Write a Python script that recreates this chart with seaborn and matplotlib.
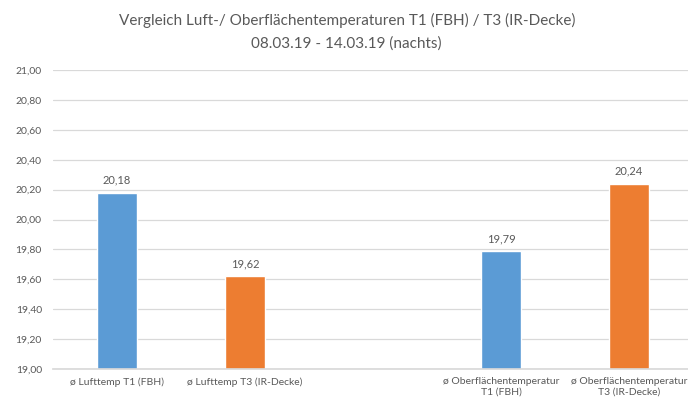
import matplotlib
matplotlib.use("Agg")
import matplotlib.pyplot as plt
import seaborn as sns
import pandas as pd
from matplotlib.ticker import FuncFormatter, MultipleLocator

categories = ["ø Lufttemp T1 (FBH)", "ø Lufttemp T3 (IR-Decke)", " ",
              "ø Oberflächentemperatur\nT1 (FBH)", "ø Oberflächentemperatur\nT3 (IR-Decke)"]
values = [20.18, 19.62, 19.79, 20.24]
value_categories = [categories[0], categories[1], categories[3], categories[4]]
series = ["T1", "T3", "T1", "T3"]
palette = {"T1": "#5B9BD5", "T3": "#ED7D31"}

df = pd.DataFrame({"cat": value_categories, "val": values, "ser": series})

sns.set_theme(style="white")
plt.rcParams["font.family"] = ["Lato", "DejaVu Sans"]
text_color = "#595959"

fig = plt.figure(figsize=(6.88, 4.05), dpi=100)
ax = fig.add_axes([53/688, 1 - 369/405, 1 - 53/688, (369 - 70)/405])

sns.barplot(data=df, x="cat", y="val", hue="ser", order=categories,
            palette=palette, width=0.31, legend=False, ax=ax,
            errorbar=None, saturation=1)

ax.set_ylim(19.0, 21.0)
ax.set_xlim(-0.5, 4.46)
ax.yaxis.set_major_locator(MultipleLocator(0.2))
ax.yaxis.set_major_formatter(FuncFormatter(lambda v, p: f"{v:.2f}".replace(".", ",")))
ax.grid(axis="y", color="#D9D9D9", linewidth=0.9)
ax.set_axisbelow(True)
for s in ["left", "right", "top"]:
    ax.spines[s].set_visible(False)
ax.spines["bottom"].set_color("#D9D9D9")
ax.set_xlabel("")
ax.set_ylabel("")
ax.tick_params(axis="y", labelsize=7.5, colors=text_color, length=0, pad=8)
ax.tick_params(axis="x", labelsize=7.5, colors=text_color, length=0, pad=6)

for cont in ax.containers:
    labels = [f"{b.get_height():.2f}".replace(".", ",") for b in cont]
    ax.bar_label(cont, labels=labels, padding=5, fontsize=8, color=text_color)

fig.text(0.504, 1 - 20/405, "Vergleich Luft-/ Oberflächentemperaturen T1 (FBH) / T3 (IR-Decke)",
         ha="center", va="center", fontsize=11, color=text_color)
fig.text(0.504, 1 - 44/405, "08.03.19 - 14.03.19 (nachts)",
         ha="center", va="center", fontsize=11, color=text_color)

fig.savefig("out.png", dpi=100)
